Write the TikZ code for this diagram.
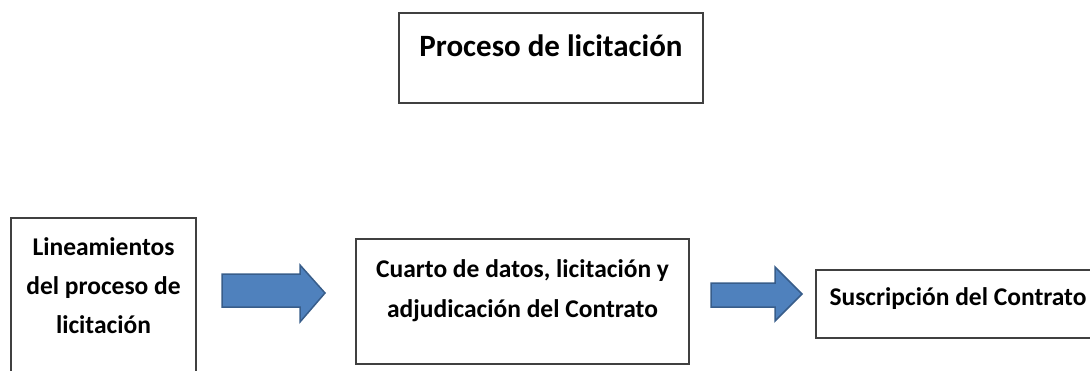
\documentclass[tikz,border=0pt]{standalone}
\usepackage{fontspec}
\setmainfont{Carlito}
\usetikzlibrary{positioning}
\definecolor{arrowblue}{HTML}{4F81BD}
\definecolor{arrowedge}{HTML}{385D8A}
\tikzset{
x=1pt, y=1pt, % one unit is one pixel of the picture
box/.style={draw=black!75, line width=1.2pt, inner sep=0pt}, % the plain frames
boxtext/.style={font=\bfseries\fontsize{25.5}{39}\selectfont, align=center, inner sep=0pt},
titletext/.style={font=\bfseries\fontsize{31}{37}\selectfont, inner sep=0pt},
bigarrow/.style={fill=arrowblue, draw=arrowedge, line width=1.5pt, line join=miter}, % blue block arrows
}

\begin{document}
\begin{tikzpicture}
        \useasboundingbox (0,0) rectangle (1090,370);

        \node[box, minimum width=304, minimum height=90] (title) at (551,312) {};
        \node[titletext] (titlelbl) at (551,324) {Proceso de licitación};

        \node[box, minimum width=185, minimum height=162] (lineam) at (103.5,71) {};
        \node[boxtext] (lineamlbl) at (103.5,84) {Lineamientos\\del proceso de\\licitación};

        \node[box, minimum width=333, minimum height=125] (cuarto) at (522.5,68.5) {};
        \node[boxtext, font=\bfseries\fontsize{25.5}{40}\selectfont] (cuartolbl) at (522.5,79) {Cuarto de datos, licitación y\\adjudicación del Contrato};

        \node[box, minimum width=276, minimum height=68] (suscrip) at (954,66) {};
        \node[boxtext] (suscriplbl) at (958,71) {Suscripción del Contrato};

        % block arrows between the frames
        \draw[bigarrow] (222,63) -- (222,96) -- (300,96) -- (300,105) -- (325,77)
                -- (300,48) -- (300,63) -- cycle;
        \draw[bigarrow] (711,63) -- (711,87) -- (775,87) -- (775,103) -- (802,76)
                -- (775,49) -- (775,63) -- cycle;
      \end{tikzpicture}
\end{document}
